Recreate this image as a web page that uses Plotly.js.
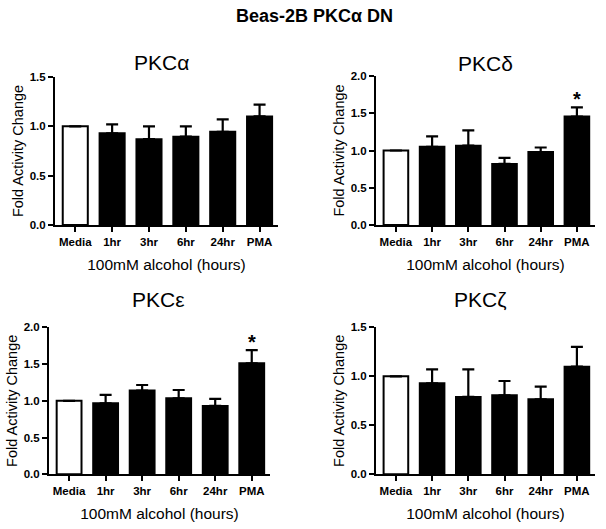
<!DOCTYPE html>
<html><head><meta charset="utf-8">
<script src="https://cdn.plot.ly/plotly-3.0.1.min.js"></script>
<style>html,body{margin:0;padding:0;background:#fff}#chart{width:606px;height:529px}</style>
</head><body><div id="chart"></div>
<script>
const categories = ["Media", "1hr", "3hr", "6hr", "24hr", "PMA"];
const panelTitles = ["PKCα", "PKCδ", "PKCε", "PKCζ"];
const alphaMean = [1.0, 0.93, 0.87, 0.895, 0.945, 1.10];
const alphaErr  = [0.0, 0.09, 0.13, 0.105, 0.125, 0.12];
const deltaMean = [1.0, 1.05, 1.065, 0.82, 0.98, 1.455];
const deltaErr  = [0.0, 0.14, 0.205, 0.08, 0.06, 0.125];
const epsMean   = [1.0, 0.966, 1.14, 1.034, 0.93, 1.51];
const epsErr    = [0.0, 0.114, 0.075, 0.113, 0.095, 0.18];
const zetaMean  = [1.0, 0.928, 0.79, 0.806, 0.765, 1.098];
const zetaErr   = [0.0, 0.142, 0.28, 0.146, 0.129, 0.202];
const yMax = [1.5, 2.0, 2.0, 1.5];
const yDtick = [0.5, 0.5, 0.5, 0.5];
const significant = [[], ["PMA"], ["PMA"], []];
const mainTitle = "<b>Beas-2B PKCα DN</b>";
const yTitle = "Fold Activity Change";
const xTitle = "100mM alcohol (hours)";

const means = [alphaMean, deltaMean, epsMean, zetaMean];
const errs = [alphaErr, deltaErr, epsErr, zetaErr];

const W = 606, H = 529;
const xDom = [[55, 278], [376, 595], [49, 270], [376, 595]];
const yDom = [[77, 225], [76, 225], [327.3, 474.3], [327.3, 474.3]];
const titleX = [161, 485, 158, 480];
const titleY = [62, 63, 299, 299];

const fam = "Liberation Sans, Arial, sans-serif";
const traces = [];
const layout = {
  width: W, height: H,
  margin: {l: 0, r: 0, t: 0, b: 0},
  paper_bgcolor: "#fff", plot_bgcolor: "#fff",
  showlegend: false,
  bargap: 0.32,
  font: {family: fam, color: "#000"},
  annotations: []
};

for (let i = 0; i < 4; i++) {
  const sfx = i === 0 ? "" : String(i + 1);
  traces.push({
    type: "bar",
    x: categories,
    y: means[i],
    xaxis: "x" + sfx, yaxis: "y" + sfx,
    marker: {
      color: categories.map((c, j) => j === 0 ? "#ffffff" : "#000000"),
      line: {color: "#000", width: 2}
    },
    error_y: {
      type: "data", symmetric: false,
      array: errs[i], arrayminus: errs[i].map(() => 0),
      color: "#000", thickness: 2.2, width: 6
    },
    hoverinfo: "skip"
  });
  layout["xaxis" + sfx] = {
    domain: [xDom[i][0] / W, xDom[i][1] / W],
    anchor: "y" + sfx,
    range: [-0.55, 5.5],
    showline: true, linecolor: "#000", linewidth: 2,
    ticks: "outside", ticklen: 5, tickwidth: 2, tickcolor: "#000",
    showgrid: false, zeroline: false, fixedrange: true,
    tickfont: {family: fam, size: 11.5, color: "#000", weight: "bold"},
    title: {text: xTitle, font: {family: fam, size: 15.5, color: "#000"}, standoff: 12}
  };
  layout["yaxis" + sfx] = {
    domain: [1 - yDom[i][1] / H, 1 - yDom[i][0] / H],
    anchor: "x" + sfx,
    range: [0, yMax[i]],
    dtick: yDtick[i], tick0: 0,
    tickformat: ".1f",
    showline: true, linecolor: "#000", linewidth: 2,
    ticks: "outside", ticklen: 5, tickwidth: 2, tickcolor: "#000",
    showgrid: false, zeroline: false, fixedrange: true,
    tickfont: {family: fam, size: 11.5, color: "#000", weight: "bold"},
    title: {text: yTitle, font: {family: fam, size: 14.5, color: "#000"}, standoff: 3}
  };
  layout.annotations.push({
    xref: "paper", yref: "paper",
    x: titleX[i] / W, y: 1 - titleY[i] / H,
    text: panelTitles[i], showarrow: false,
    xanchor: "center", yanchor: "middle",
    font: {family: fam, size: 21, color: "#000"}
  });
  significant[i].forEach(cat => {
    const j = categories.indexOf(cat);
    layout.annotations.push({
      xref: "x" + sfx, yref: "y" + sfx,
      x: cat, y: means[i][j] + errs[i][j],
      text: "<b>*</b>", showarrow: false, yanchor: "bottom", yshift: -5,
      font: {family: fam, size: 20, color: "#000"}
    });
  });
}
layout.annotations.push({
  xref: "paper", yref: "paper", x: 314 / W, y: 1 - 16 / H,
  text: mainTitle, showarrow: false, xanchor: "center", yanchor: "middle",
  font: {family: fam, size: 18, color: "#000"}
});

Plotly.newPlot("chart", traces, layout, {staticPlot: true});
</script></body></html>
